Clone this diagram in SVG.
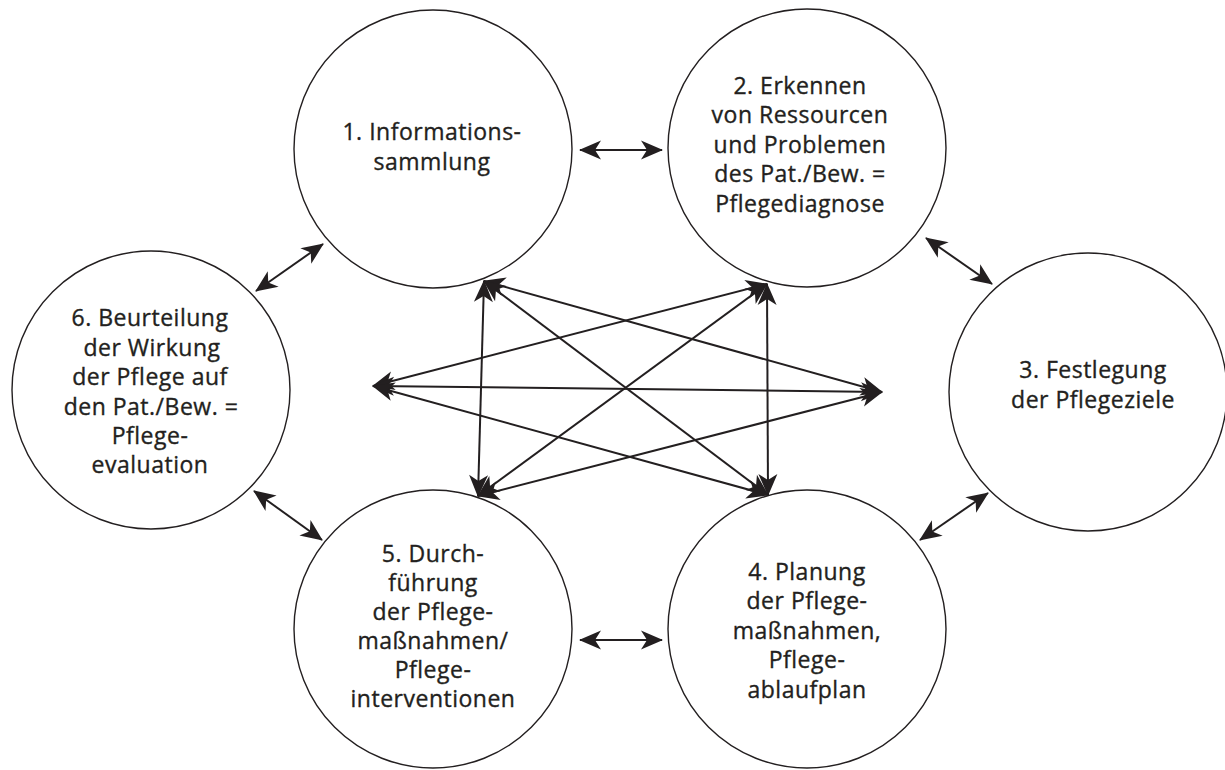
<svg xmlns="http://www.w3.org/2000/svg" width="1225" height="770" viewBox="0 0 1225 770">
<style>
.c{fill:#fff;stroke:#231f20;stroke-width:1.4}
.t{font-family:"Open Sans","Noto Sans","Liberation Sans",sans-serif;font-size:23px;letter-spacing:0.5px;fill:#231f20;stroke:#231f20;stroke-width:0.35px;text-anchor:middle}
.a{stroke:#231f20;stroke-width:2;fill:none;marker-start:url(#ah);marker-end:url(#ah)}
</style>
<defs>
<marker id="ah" markerUnits="userSpaceOnUse" viewBox="-23 -11 25 22" refX="0" refY="0" markerWidth="25" markerHeight="22" orient="auto-start-reverse">
<path d="M1,0 L-21,-9.5 L-15,0 L-21,9.5 Z" fill="#231f20"/>
</marker>
</defs>
<rect width="1225" height="770" fill="#fff"/>
<g id="n1"><circle class="c" cx="433" cy="149" r="139"/>
<text class="t" x="432" y="140">1. Informations-</text><text class="t" x="432" y="170">sammlung</text></g>
<g id="n2"><circle class="c" cx="807" cy="148" r="139"/>
<text class="t" x="800" y="94">2. Erkennen</text><text class="t" x="800" y="123">von Ressourcen</text><text class="t" x="800" y="153">und Problemen</text><text class="t" x="800" y="182">des Pat./Bew. =</text><text class="t" x="800" y="212">Pflegediagnose</text></g>
<g id="n3"><circle class="c" cx="1088" cy="392" r="139"/>
<text class="t" x="1093" y="378">3. Festlegung</text><text class="t" x="1093" y="408">der Pflegeziele</text></g>
<g id="n4"><circle class="c" cx="807" cy="629" r="139"/>
<text class="t" x="807" y="580">4. Planung</text><text class="t" x="807" y="609">der Pflege-</text><text class="t" x="807" y="639">maßnahmen,</text><text class="t" x="807" y="668">Pflege-</text><text class="t" x="807" y="698">ablaufplan</text></g>
<g id="n5"><circle class="c" cx="433" cy="629" r="139"/>
<text class="t" x="433" y="562">5. Durch-</text><text class="t" x="433" y="591">führung</text><text class="t" x="433" y="620">der Pflege-</text><text class="t" x="433" y="649">maßnahmen/</text><text class="t" x="433" y="678">Pflege-</text><text class="t" x="433" y="707">interventionen</text></g>
<g id="n6"><circle class="c" cx="151" cy="390" r="139"/>
<text class="t" x="150" y="326">6. Beurteilung</text><text class="t" x="152" y="356">der Wirkung</text><text class="t" x="150" y="385">der Pflege auf</text><text class="t" x="151" y="415">den Pat./Bew. =</text><text class="t" x="150" y="444">Pflege-</text><text class="t" x="150" y="473">evaluation</text></g>
<g id="connectors">
<line class="a" x1="580" y1="150" x2="662" y2="150"/>
<line class="a" x1="926" y1="238" x2="992" y2="284"/>
<line class="a" x1="988" y1="493" x2="920" y2="540"/>
<line class="a" x1="580" y1="640" x2="662" y2="640"/>
<line class="a" x1="254" y1="491" x2="322" y2="540"/>
<line class="a" x1="256" y1="291" x2="323" y2="244"/>
<line class="a" x1="484" y1="281" x2="882" y2="392"/>
<line class="a" x1="484" y1="281" x2="768" y2="495"/>
<line class="a" x1="484" y1="281" x2="478" y2="496"/>
<line class="a" x1="767" y1="284" x2="768" y2="495"/>
<line class="a" x1="767" y1="284" x2="478" y2="496"/>
<line class="a" x1="767" y1="284" x2="373" y2="386"/>
<line class="a" x1="882" y1="392" x2="478" y2="496"/>
<line class="a" x1="882" y1="392" x2="373" y2="386"/>
<line class="a" x1="768" y1="495" x2="373" y2="386"/>
</g>
</svg>
